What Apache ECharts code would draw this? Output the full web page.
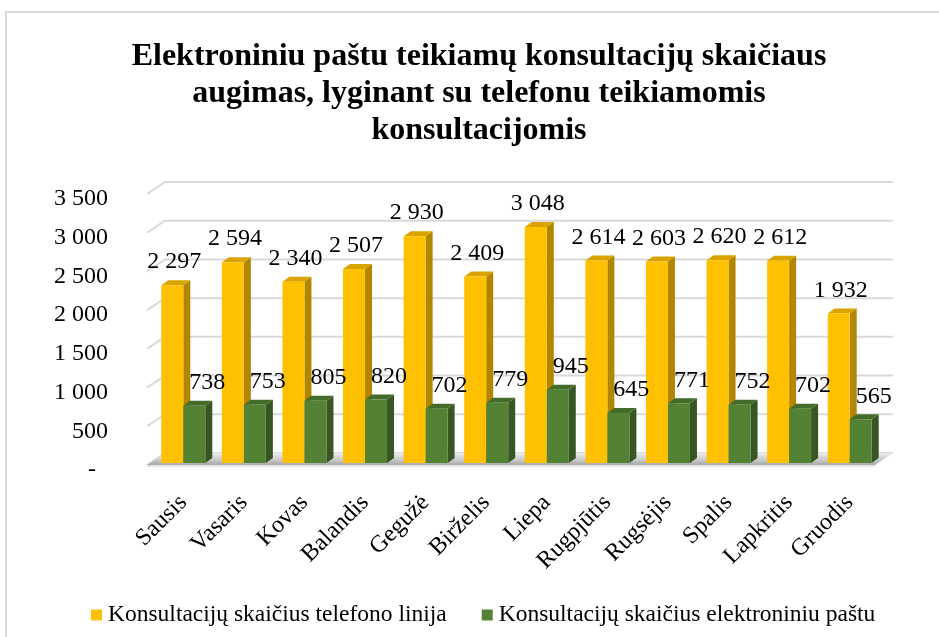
<!DOCTYPE html>
<html>
<head>
<meta charset="utf-8">
<script src="https://cdn.jsdelivr.net/npm/echarts@6/dist/echarts.min.js"></script>
<style>
html,body{margin:0;padding:0;background:#fff;}
#main{width:939px;height:637px;}
</style>
</head>
<body>
<div id="main"></div>
<script>
const titleText = 'Elektroniniu paštu teikiamų konsultacijų skaičiaus\naugimas, lyginant su telefonu teikiamomis\nkonsultacijomis';
const months = ['Sausis','Vasaris','Kovas','Balandis','Gegužė','Birželis','Liepa','Rugpjūtis','Rugsėjis','Spalis','Lapkritis','Gruodis'];
const phoneName = 'Konsultacijų skaičius telefono linija';
const emailName = 'Konsultacijų skaičius elektroniniu paštu';
const phoneValues = [2297, 2594, 2340, 2507, 2930, 2409, 3048, 2614, 2603, 2620, 2612, 1932];
const emailValues = [738, 753, 805, 820, 702, 779, 945, 645, 771, 752, 702, 565];
const yTicks = [0, 500, 1000, 1500, 2000, 2500, 3000, 3500];

const FONT = '"Liberation Serif", "Times New Roman", serif';
const DX = 7, DY = -5;

function fmt(v) {
  if (v === 0) return '-\u00a0\u00a0';
  return String(v).replace(/\B(?=(\d{3})+(?!\d))/g, ' ');
}

function barRenderer(colors, side, labelOffset) {
  return function (params, api) {
    const i = api.value(0), v = api.value(1);
    const top = api.coord([i, v]);
    const base = api.coord([i, 0]);
    const band = api.size([1, 0])[0];
    const w = band * 0.363;
    const x0 = side === 'left' ? top[0] - w : top[0];
    const x1 = x0 + w;
    const yT = top[1], yB = base[1];
    return {
      type: 'group',
      children: [
        { type: 'polygon', shape: { points: [[x1, yT], [x1 + DX, yT + DY], [x1 + DX, yB + DY], [x1, yB]] }, style: { fill: colors.side } },
        { type: 'polygon', shape: { points: [[x0, yT], [x0 + DX, yT + DY], [x1 + DX, yT + DY], [x1, yT]] }, style: { fill: colors.top } },
        { type: 'rect', shape: { x: x0, y: yT, width: w, height: yB - yT }, style: { fill: colors.front } },
        { type: 'text', x: (x0 + x1) / 2 + labelOffset, y: yT - 23,
          style: { text: fmt(v), fontFamily: FONT, fontSize: 24, fill: '#000', align: 'center', verticalAlign: 'middle' } }
      ]
    };
  };
}

function gridRenderer(params, api) {
  const v = api.value(0);
  const cs = params.coordSys;
  const L = cs.x, R = cs.x + cs.width;
  const y = api.coord([0, v])[1];
  return {
    type: 'polyline',
    shape: { points: [[L - 6, y + 2], [L + 12, y - 10], [R + 13, y - 10]] },
    style: { stroke: '#d9d9d9', lineWidth: 2, fill: null }
  };
}

function floorRenderer(params, api) {
  const cs = params.coordSys;
  const L = cs.x, R = cs.x + cs.width;
  const y = api.coord([0, 0])[1];
  return {
    type: 'group',
    children: [
      { type: 'polygon', shape: { points: [[L - 6, y + 2], [L + 12, y - 10], [R + 13, y - 10], [R - 5, y + 2]] },
        style: { fill: new echarts.graphic.LinearGradient(0, 0, 0, 1, [
          { offset: 0, color: '#eeeeee' }, { offset: 0.6, color: '#c8c8c8' }, { offset: 1, color: '#a6a6a6' }]) } },
      { type: 'polygon', shape: { points: [[L - 6, y + 2], [R - 5, y + 2], [R - 5, y + 4], [L - 6, y + 4]] },
        style: { fill: '#e4e4e4' } }
    ]
  };
}

const chart = echarts.init(document.getElementById('main'), null, { renderer: 'canvas' });
chart.setOption({
  backgroundColor: '#ffffff',
  animation: false,
  graphic: [{ type: 'rect', shape: { x: 6, y: 12, width: 1000, height: 1000 }, style: { fill: null, stroke: '#d9d9d9', lineWidth: 2 }, z: 100 }],
  title: {
    text: titleText,
    left: 474, top: 33, textAlign: 'center',
    textStyle: { fontFamily: FONT, fontWeight: 'bold', fontSize: 32, lineHeight: 37, color: '#000' }
  },
  legend: {
    left: 86, top: 598,
    itemWidth: 11, itemHeight: 11, itemGap: 35,
    icon: 'rect',
    data: [{ name: phoneName, itemStyle: { color: '#FFC000' } }, { name: emailName, itemStyle: { color: '#548235' } }],
    textStyle: { fontFamily: FONT, fontSize: 23.5, color: '#000', padding: [0, 0, 0, 1] }
  },
  grid: [
    { left: 153, right: 59, top: 192, bottom: 174 },
    { left: 153, right: 59, top: 199, bottom: 167 }
  ],
  xAxis: [
    { type: 'category', data: months, gridIndex: 0,
      axisLine: { show: false }, axisTick: { show: false },
      axisLabel: { rotate: 45, margin: 36, interval: 0, fontFamily: FONT, fontSize: 24, color: '#000' } },
    { type: 'category', data: months, gridIndex: 1, show: false }
  ],
  yAxis: [
    { type: 'value', gridIndex: 0, min: 0, max: 3500, interval: 500,
      axisLabel: { show: false }, axisLine: { show: false }, axisTick: { show: false }, splitLine: { show: false } },
    { type: 'value', gridIndex: 1, min: 0, max: 3500, interval: 500,
      axisLabel: { formatter: fmt, margin: 45, fontFamily: FONT, fontSize: 24, color: '#000' },
      axisLine: { show: false }, axisTick: { show: false }, splitLine: { show: false } }
  ],
  series: [
    { type: 'custom', name: 'grid', xAxisIndex: 0, yAxisIndex: 0, data: yTicks.map(v => [v]),
      renderItem: gridRenderer, silent: true, z: 1, encode: { y: 0 } },
    { type: 'custom', name: 'floor', xAxisIndex: 0, yAxisIndex: 0, data: [[0]],
      renderItem: floorRenderer, silent: true, z: 2 },
    { type: 'custom', name: phoneName, xAxisIndex: 0, yAxisIndex: 0,
      itemStyle: { color: '#FFC000' },
      data: phoneValues.map((v, i) => [i, v]),
      encode: { x: 0, y: 1 },
      renderItem: barRenderer({ front: '#FFC000', side: '#B38600', top: '#D9A300' }, 'left', 2), z: 3 },
    { type: 'custom', name: emailName, xAxisIndex: 0, yAxisIndex: 0,
      itemStyle: { color: '#548235' },
      data: emailValues.map((v, i) => [i, v]),
      encode: { x: 0, y: 1 },
      renderItem: barRenderer({ front: '#548235', side: '#375623', top: '#436B2A' }, 'right', 13), z: 4 }
  ]
});
</script>
</body>
</html>
